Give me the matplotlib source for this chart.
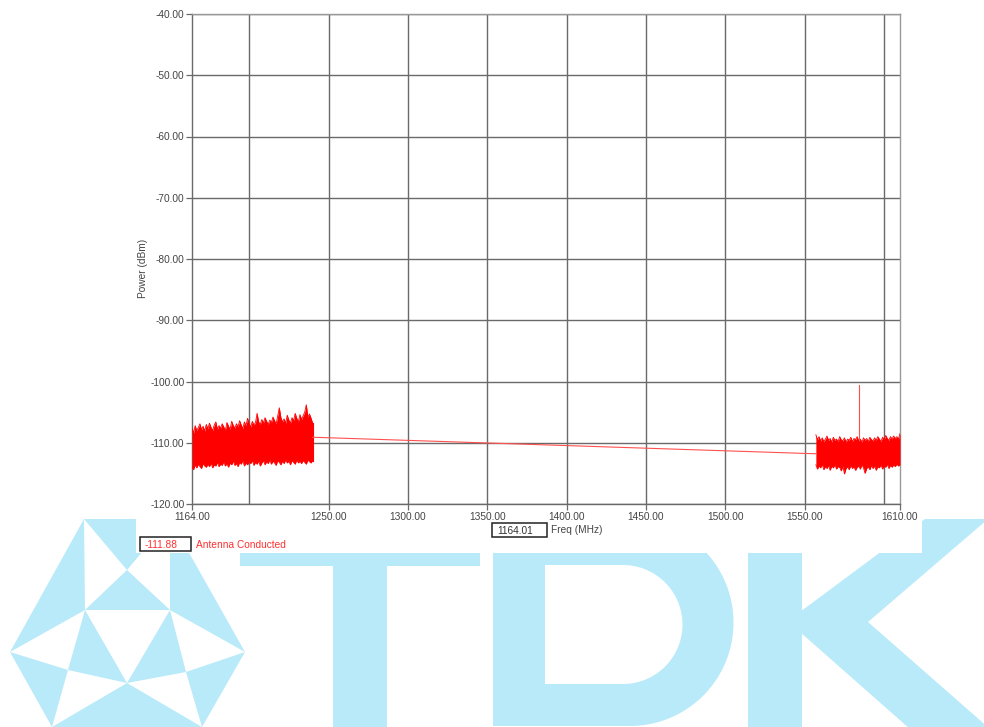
import numpy as np
import matplotlib
matplotlib.use("Agg")
import matplotlib.pyplot as plt
from matplotlib.patches import Rectangle, Polygon, PathPatch
from matplotlib.path import Path

plt.rcParams['font.family'] = ['Liberation Sans', 'DejaVu Sans']

# ---------------- data ----------------
y_ticks = [-120, -110, -100, -90, -80, -70, -60, -50, -40]
x_ticks = [1164, 1250, 1300, 1350, 1400, 1450, 1500, 1550, 1610]
x_grid = [1200, 1250, 1300, 1350, 1400, 1450, 1500, 1550, 1600]

band_left_start, band_left_stop = 1164.0, 1240.0
upper_left = [-107.6, -108.4, -107.2, -108.0, -107.5, -106.9, -107.9, -107.3, -108.1, -107.0,
              -107.7, -106.8, -107.5, -108.0, -107.1, -106.6, -107.8, -107.2, -107.6, -106.9,
              -107.4, -108.0, -106.7, -107.3, -107.8, -106.5, -107.2, -107.6, -106.9, -107.4,
              -106.4, -107.1, -107.7, -106.6, -107.2, -106.0, -106.9, -107.4, -106.5, -107.1,
              -106.7, -105.2, -106.6, -107.0, -106.2, -106.8, -105.9, -106.5, -107.0, -106.3,
              -106.7, -105.8, -106.4, -106.9, -105.6, -104.3, -105.9, -106.6, -106.1, -106.8,
              -105.5, -106.3, -106.8, -105.9, -106.4, -105.2, -106.0, -106.6, -105.4, -106.2,
              -105.6, -105.0, -103.8, -105.8, -105.3, -106.0, -106.8]
lower_left = [-113.9, -114.4, -113.6, -114.1, -113.5, -113.9, -114.2, -113.4, -113.8, -114.0,
              -113.5, -113.9, -113.3, -114.1, -113.6, -113.8, -113.2, -113.9, -113.5, -113.7,
              -113.1, -113.8, -113.4, -114.0, -113.3, -113.6, -113.0, -113.7, -113.4, -113.9,
              -113.2, -113.5, -112.9, -113.8, -113.3, -113.6, -113.1, -113.4, -112.9, -113.7,
              -113.2, -113.5, -113.0, -113.8, -113.3, -112.9, -113.6, -113.1, -113.4, -112.8,
              -113.5, -113.0, -113.3, -113.7, -112.9, -113.2, -113.6, -113.0, -113.4, -112.8,
              -113.3, -113.0, -113.6, -112.9, -113.2, -113.5, -112.8, -113.3, -113.0, -113.4,
              -112.9, -113.2, -113.5, -112.8, -113.1, -113.3, -112.9]

band_right_start, band_right_stop = 1557.0, 1610.0
upper_right = [-108.7, -109.5, -109.0, -109.7, -109.2, -109.8, -109.4, -108.9, -109.6, -109.3,
               -109.9, -109.1, -109.6, -109.4, -109.8, -109.0, -109.5, -109.7, -109.2, -109.9,
               -109.4, -109.6, -109.1, -109.8, -109.3, -109.5, -109.0, -109.7, -109.4, -109.9,
               -109.2, -109.6, -109.3, -109.8, -109.1, -109.5, -109.7, -109.2, -109.6, -109.0,
               -109.4, -109.8, -109.1, -109.5, -108.8, -109.3, -109.6, -109.0, -109.4, -108.9,
               -109.3, -109.0, -109.4, -108.5]
lower_right = [-113.6, -114.3, -113.8, -114.1, -113.5, -114.4, -113.9, -114.2, -113.7, -114.5,
               -113.8, -114.1, -113.6, -114.3, -113.9, -114.0, -114.6, -113.8, -115.1, -114.2,
               -113.9, -114.4, -113.7, -114.2, -113.9, -114.5, -114.0, -113.8, -114.3, -113.6,
               -114.1, -115.0, -114.2, -113.9, -114.4, -113.7, -114.2, -113.8, -114.5, -113.9,
               -114.1, -113.6, -114.3, -113.8, -114.0, -113.5, -114.2, -113.7, -114.0, -113.6,
               -113.9, -113.5, -113.8, -113.6]

bridge_freq = [1240.0, 1557.0]
bridge_power = [-109.1, -111.8]

spur_freq = 1584.0
spur_power = [-109.4, -100.6]

marker_freq_text = "1164.01"
marker_power_text = "-111.88"
trace_name = "Antenna Conducted"

# ---------------- figure ----------------
W, H = 984, 727
fig = plt.figure(figsize=(W / 100, H / 100), dpi=100)
fig.patch.set_facecolor('white')

bg = fig.add_axes([0, 0, 1, 1])
bg.set_xlim(0, W)
bg.set_ylim(H, 0)
bg.axis('off')

wm = '#b8eaf9'
# --- TDK watermark ---
A = (10, 652); T1 = (84, 519); T2 = (170, 519); D = (245, 652)
P1 = (85, 610); P2 = (127, 570); P3 = (170, 610)
P4 = (68, 670); P5 = (127, 683); P6 = (186, 672)
P7 = (52, 727); P8 = (202, 727)
for tri in [[A, T1, P1], [T1, T2, P2], [T2, D, P3], [P1, P2, P3], [P1, P4, P5],
            [P3, P6, P5], [A, P4, P7], [P7, P5, P8], [D, P6, P8]]:
    bg.add_patch(Polygon(tri, closed=True, fc=wm, ec='none', zorder=1))
# T
bg.add_patch(Rectangle((240, 519), 240, 47, fc=wm, ec='none', zorder=1))
bg.add_patch(Rectangle((333, 519), 54, 210, fc=wm, ec='none', zorder=1))
# D
def d_path(x0, y0, y1, xc, n=60):
    r = (y1 - y0) / 2.0
    cy = (y0 + y1) / 2.0
    ang = np.linspace(-np.pi / 2, np.pi / 2, n)
    pts = [(x0, y0)] + [(xc + r * np.cos(a), cy + r * np.sin(a)) for a in ang] + [(x0, y1)]
    return pts
outer = d_path(493, 519, 726, 630)
inner = d_path(545, 565, 684, 623)[::-1]
verts = outer + [outer[0]] + inner + [inner[0]]
codes = ([Path.MOVETO] + [Path.LINETO] * (len(outer) - 1) + [Path.CLOSEPOLY]
         + [Path.MOVETO] + [Path.LINETO] * (len(inner) - 1) + [Path.CLOSEPOLY])
bg.add_patch(PathPatch(Path(verts, codes), fc=wm, ec='none', zorder=1))
# K
bg.add_patch(Rectangle((748, 519), 54, 210, fc=wm, ec='none', zorder=1))
bg.add_patch(Polygon([(800, 612), (925, 519), (988, 519), (868, 622), (990, 729),
                      (910, 729), (800, 632)], fc=wm, ec='none', zorder=1))

# white chart panel
bg.add_patch(Rectangle((136, 0), 786, 553, fc='white', ec='none', zorder=2))

# marker boxes / legend text
bg.add_patch(Rectangle((492, 523), 55, 14, fc='white', ec='#222222', lw=1.1, zorder=3))
bg.text(497, 530.5, marker_freq_text, fontsize=7.3, color='#333333', va='center', ha='left', zorder=4)
bg.text(551, 530, "Freq (MHz)", fontsize=7.3, color='#444444', va='center', ha='left', zorder=4)
bg.add_patch(Rectangle((140, 537), 51, 14, fc='white', ec='#222222', lw=1.1, zorder=3))
bg.text(145, 544.5, marker_power_text, fontsize=7.3, color='#ff3030', va='center', ha='left', zorder=4)
bg.text(196, 544.5, trace_name, fontsize=7.3, color='#ff3030', va='center', ha='left', zorder=4)
bg.text(143, 268, "Power (dBm)", fontsize=7.3, color='#444444', rotation=90,
        va='center', ha='center', zorder=4)

# ---------------- main axes ----------------
left, right, top, bottom = 192, 900, 14, 504
ax = fig.add_axes([left / W, 1 - bottom / H, (right - left) / W, (bottom - top) / H])
ax.set_facecolor('white')
ax.set_xlim(1164, 1610)
ax.set_ylim(-120, -40)

gcol = '#6a6a6a'
ax.set_yticks(y_ticks)
ax.set_yticklabels([f"{v:.2f}" for v in y_ticks])
ax.set_xticks(x_ticks)
ax.set_xticklabels([f"{v:.2f}" for v in x_ticks])
ax.grid(which='major', axis='y', color=gcol, lw=1.0)
for xv in x_grid:
    ax.axvline(xv, color=gcol, lw=1.0, zorder=0.5)
ax.tick_params(which='major', direction='out', length=4, width=0.9, color=gcol,
               labelsize=7.3, labelcolor='#444444', pad=1.5)
ax.set_axisbelow(True)
for s in ['left', 'bottom']:
    ax.spines[s].set_color(gcol)
    ax.spines[s].set_linewidth(1.0)
for s in ['top', 'right']:
    ax.spines[s].set_color('#999999')
    ax.spines[s].set_linewidth(1.0)

red = '#ff0000'
fl = np.linspace(band_left_start, band_left_stop, len(upper_left))
ax.fill_between(fl, lower_left, upper_left, color=red, lw=0, zorder=3)
ax.plot(fl, upper_left, color=red, lw=0.6, zorder=3)
ax.plot(fl, lower_left, color=red, lw=0.6, zorder=3)
ax.plot([fl[-1], fl[-1]], [lower_left[-1], upper_left[-1]], color=red, lw=0.8, zorder=3)

fr = np.linspace(band_right_start, band_right_stop, len(upper_right))
ax.fill_between(fr, lower_right, upper_right, color=red, lw=0, zorder=3)
ax.plot(fr, upper_right, color=red, lw=0.6, zorder=3)
ax.plot(fr, lower_right, color=red, lw=0.6, zorder=3)

ax.plot(bridge_freq, bridge_power, color='#ff5050', lw=0.8, zorder=3)
ax.plot([spur_freq, spur_freq], spur_power, color='#ff5050', lw=0.8, zorder=3)

fig.savefig('out.png', dpi=100, facecolor='white')
